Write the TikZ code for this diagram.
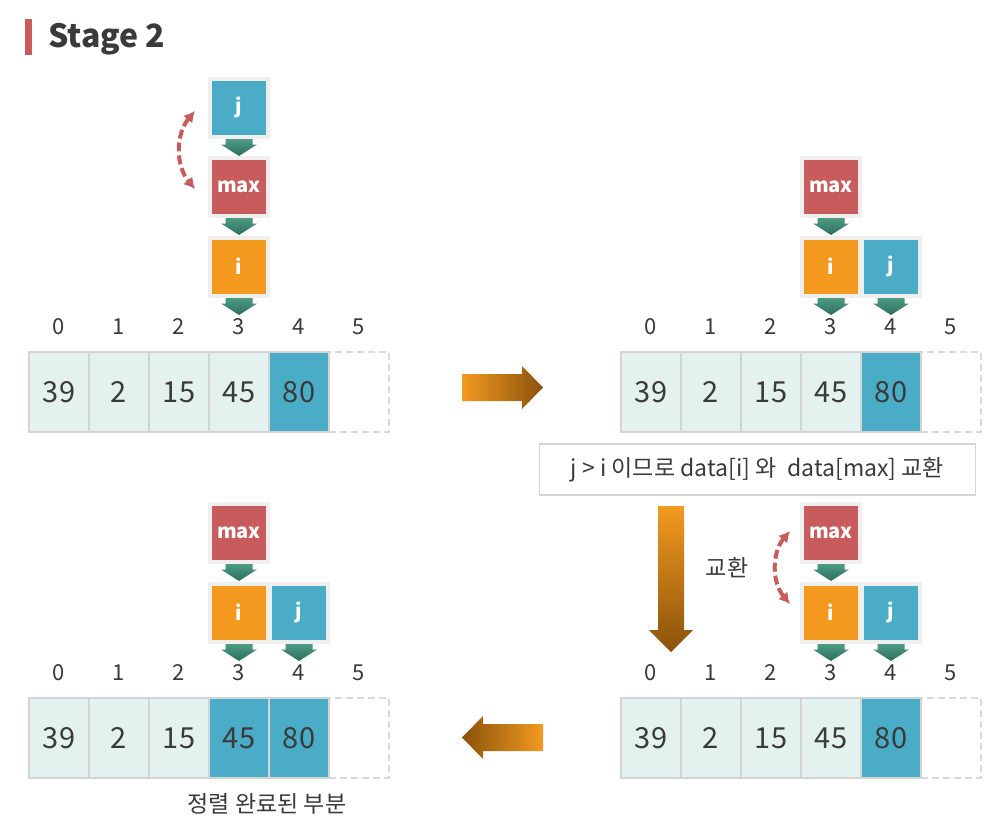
\documentclass[tikz,border=0pt]{standalone}
\usepackage{fontspec}
\setmainfont{Noto Sans CJK KR}
\usetikzlibrary{calc, arrows, arrows.meta, positioning}
\tikzset{>=latex}
\definecolor{jblue}{RGB}{74, 172, 198}
\definecolor{maxred}{RGB}{200, 92, 92}
\definecolor{iorange}{RGB}{243, 154, 30}
\definecolor{halo}{RGB}{239, 239, 239}
\definecolor{cellfill}{RGB}{228, 242, 239}
\definecolor{cellgray}{RGB}{212, 212, 212}
\definecolor{txt}{RGB}{58, 58, 58}
\definecolor{gtop}{RGB}{78, 156, 132}
\definecolor{gbot}{RGB}{44, 110, 92}
\definecolor{aorange}{RGB}{243, 154, 33}
\definecolor{abrown}{RGB}{138, 82, 10}

% small green pointer arrow under a box
\newcommand{\ptr}[1]{%
  \shade[top color=gtop, bottom color=gbot] ($(#1)+(-13.5,31.5)$) -- ++(27,0) -- ++(0,5.5)
    -- ++(4.5,0) -- ++(-18,11.5) -- ++(-18,-11.5) -- ++(4.5,0) -- cycle;}

\begin{document}
\begin{tikzpicture}[x=1pt, y=-1pt,
    cell/.style={draw=cellgray, line width=2pt, minimum width=60pt, minimum height=80pt,
      inner sep=0, text=txt, font=\fontsize{29}{29}\selectfont},
    spare/.style={draw=cellgray!85, line width=2pt, dash pattern=on 7pt off 4pt,
      minimum width=60pt, minimum height=80pt},
    index/.style={text=txt, font=\fontsize{22}{22}\selectfont},
    ptrbox/.style={draw=halo, line width=4pt, minimum size=58pt, inner sep=0, text=white,
      font=\bfseries\fontsize{20}{20}\selectfont},
    swaparc/.style={{Latex[length=11pt,width=12pt]}-{Latex[length=11pt,width=12pt]},
      draw=maxred, line width=4pt, dash pattern=on 9pt off 4pt},
    note/.style={draw=cellgray, line width=1.8pt, minimum width=436pt, minimum height=51pt,
      text=txt, font=\fontsize{23}{23}\selectfont},
    caption/.style={text=txt, font=\fontsize{23}{23}\selectfont}
  ]
  \useasboundingbox (0,0) rectangle (992,822);

  % title
  \fill[maxred] (25,19) rectangle (32,55);
  \node[anchor=base west, inner sep=0, text=txt, font=\bfseries\fontsize{32}{32}\selectfont]
    (title) at (48,47) {Stage 2};

  % the four arrays
  \foreach \p/\x/\y/\hl in {a/28/351/4, b/620/351/4, c/620/697/4, d/28/697/3} {
    \node[spare, anchor=north west] (\p c5) at (\x+300,\y) {};
    \foreach \v [count=\c from 0] in {39,2,15,45,80} {
      \ifnum\c<\hl \def\clr{cellfill}\else\def\clr{jblue}\fi
      \node[cell, fill=\clr, anchor=north west] (\p c\c) at (\x+60*\c,\y) {\v};
      \node[index] (\p n\c) at ($(\p c\c)+(0,-65)$) {\c};
    }
    \node[index] (\p n5) at ($(\p c5)+(0,-65)$) {5};
  }

  % pointers
  \node[ptrbox, fill=jblue] (ja) at ($(ac3)+(0,-284.5)$) {j};
  \node[ptrbox, fill=maxred] (ma) at ($(ac3)+(0,-205.5)$) {max};
  \node[ptrbox, fill=iorange] (ia) at ($(ac3)+(0,-125.5)$) {i};

  \node[ptrbox, fill=maxred] (mb) at ($(bc3)+(0,-205.5)$) {max};
  \node[ptrbox, fill=iorange] (ib) at ($(bc3)+(0,-125.5)$) {i};
  \node[ptrbox, fill=jblue] (jb) at ($(bc4)+(0,-125.5)$) {j};

  \node[ptrbox, fill=maxred] (mc) at ($(cc3)+(0,-205.5)$) {max};
  \node[ptrbox, fill=iorange] (ic) at ($(cc3)+(0,-125.5)$) {i};
  \node[ptrbox, fill=jblue] (jc) at ($(cc4)+(0,-125.5)$) {j};

  \node[ptrbox, fill=maxred] (md) at ($(dc3)+(0,-205.5)$) {max};
  \node[ptrbox, fill=iorange] (id) at ($(dc3)+(0,-125.5)$) {i};
  \node[ptrbox, fill=jblue] (jd) at ($(dc4)+(0,-125.5)$) {j};

  \foreach \n in {ja,ma,ia,mb,ib,jb,mc,ic,jc,md,id,jd} {\ptr{\n}}

  \draw[swaparc] ($(ja)+(-44,3.5)$) to[bend right=40] ($(ma)+(-44,2.5)$);
  \draw[swaparc] ($(mc)+(-41,-1.5)$) to[bend right=40] ($(ic)+(-41,-8.5)$);

  % big arrows between stages
  \shade[left color=aorange, right color=abrown] (462,374) -- (522,374) -- (522,366)
    -- (543,387.5) -- (522,409) -- (522,401) -- (462,401) -- cycle;
  \shade[top color=aorange, bottom color=abrown] (658,506) -- (684,506) -- (684,630)
    -- (693,630) -- (671,652) -- (649,630) -- (658,630) -- cycle;
  \shade[left color=abrown, right color=aorange] (543,724) -- (483,724) -- (483,716)
    -- (462,737.5) -- (483,759) -- (483,751) -- (543,751) -- cycle;

  \node[note] (cond) at (757.5,469.5) {j > i 이므로 data[i] 와\hspace{0.25em} data[max] 교환};
  \node[caption] (swaptxt) at (727,568) {교환};
  \node[caption] (done) at (267,804) {정렬 완료된 부분};

\end{tikzpicture}
\end{document}
